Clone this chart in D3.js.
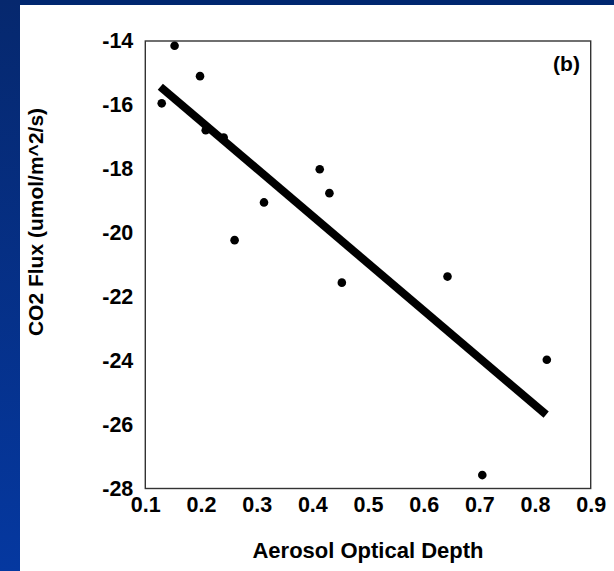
<!DOCTYPE html>
<html>
<head>
<meta charset="utf-8">
<script src="https://cdn.jsdelivr.net/npm/d3@7"></script>
<style>
  html, body { margin: 0; padding: 0; background: #ffffff; }
  svg { display: block; }
  text { font-family: "Liberation Sans", Arial, sans-serif; font-weight: bold; fill: #000; }
</style>
</head>
<body>
<svg id="chart" width="614" height="571"></svg>
<script>
// Observations: aerosol optical depth vs. CO2 flux
const aod  = [0.1295, 0.1526, 0.1983, 0.2085, 0.2408, 0.2604, 0.3132, 0.4133, 0.4307, 0.4530, 0.6428, 0.7053, 0.8212];
const flux = [-15.95, -14.15, -15.10, -16.79, -17.02, -20.23, -19.05, -18.01, -18.76, -21.56, -21.37, -27.58, -23.97];

// Linear fit end points
const fitX = [0.127, 0.820];
const fitY = [-15.43, -25.69];

// Axis ticks and labels
const xTicks = [0.1, 0.2, 0.3, 0.4, 0.5, 0.6, 0.7, 0.8, 0.9];
const yTicks = [-14, -16, -18, -20, -22, -24, -26, -28];
const xTitle = "Aerosol Optical Depth";
const yTitle = "CO2 Flux (umol/m^2/s)";
const panelTag = "(b)";

const svg = d3.select("#chart");
const W = 614, H = 571;

// Slide background: blue bands on the top and left edges
const defs = svg.append("defs");
const grad = defs.append("linearGradient").attr("id", "band")
  .attr("x1", 0).attr("y1", 0).attr("x2", 0).attr("y2", 1);
grad.append("stop").attr("offset", "0%").attr("stop-color", "#06286e");
grad.append("stop").attr("offset", "100%").attr("stop-color", "#0538a0");

svg.append("rect").attr("width", W).attr("height", H).attr("fill", "#ffffff");
svg.append("rect").attr("x", 0).attr("y", 0).attr("width", W).attr("height", 5).attr("fill", "#002770");
svg.append("rect").attr("x", 0).attr("y", 0).attr("width", 20).attr("height", H).attr("fill", "url(#band)");

const plot = { left: 145.3, right: 590.7, top: 41, bottom: 488.5 };

const x = d3.scaleLinear().domain([0.1, 0.9]).range([plot.left, plot.right]);
const y = d3.scaleLinear().domain([-28, -14]).range([plot.bottom, plot.top]);

// Frame
svg.append("rect")
  .attr("x", plot.left).attr("y", plot.top)
  .attr("width", plot.right - plot.left).attr("height", plot.bottom - plot.top)
  .attr("fill", "none").attr("stroke", "#333").attr("stroke-width", 1.4);

// Axes (labels only, no tick marks)
const xAxis = d3.axisBottom(x).tickValues(xTicks).tickSize(0).tickPadding(8)
  .tickFormat(d3.format(".1f"));
const gx = svg.append("g").attr("transform", `translate(0,${plot.bottom})`).call(xAxis);
gx.select(".domain").remove();
gx.selectAll("text").style("font-size", "21.5px").attr("fill", "#000");

const yAxis = d3.axisLeft(y).tickValues(yTicks).tickSize(0).tickPadding(12)
  .tickFormat(d => d3.format("d")(d).replace("−", "-"));
const gy = svg.append("g").attr("transform", `translate(${plot.left},0)`).call(yAxis);
gy.select(".domain").remove();
gy.selectAll("text").style("font-size", "21.5px").attr("fill", "#000");

// Fit line
svg.append("line")
  .attr("x1", x(fitX[0])).attr("y1", y(fitY[0]))
  .attr("x2", x(fitX[1])).attr("y2", y(fitY[1]))
  .attr("stroke", "#000").attr("stroke-width", 8).attr("stroke-linecap", "butt");

// Points
svg.append("g").selectAll("circle")
  .data(aod.map((a, i) => ({ a, f: flux[i] })))
  .join("circle")
  .attr("cx", d => x(d.a)).attr("cy", d => y(d.f))
  .attr("r", 4.3).attr("fill", "#000");

// Titles
svg.append("text")
  .attr("x", (plot.left + plot.right) / 2).attr("y", 558)
  .attr("text-anchor", "middle").style("font-size", "22px")
  .text(xTitle);

svg.append("text")
  .attr("transform", "translate(43,222) rotate(-90)")
  .attr("text-anchor", "middle").style("font-size", "21px")
  .text(yTitle);

svg.append("text")
  .attr("x", 566.5).attr("y", 71)
  .attr("text-anchor", "middle").style("font-size", "21px")
  .text(panelTag);
</script>
</body>
</html>
